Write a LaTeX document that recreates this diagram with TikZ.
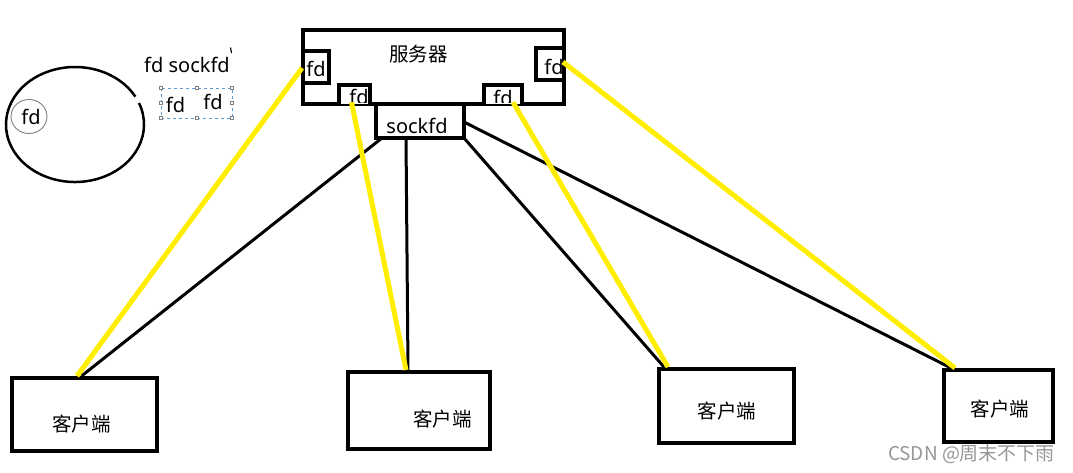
\documentclass[tikz,border=0pt]{standalone}
\usepackage{fontspec}
\setmainfont{Noto Sans}
\newfontfamily\cjk{Noto Sans CJK SC}
\usetikzlibrary{calc}
\definecolor{ylw}{RGB}{255,238,0}
\definecolor{selblue}{RGB}{91,155,213}
\definecolor{wmgray}{RGB}{150,150,150}
\tikzset{
  box/.style={draw=black, line width=3.5pt, fill=white, inner sep=0pt, outer sep=0pt},
  fdbox/.style={draw=black, line width=3.2pt, fill=white, inner sep=0pt, outer sep=0pt},
  lat/.style={font=\fontsize{20}{24}\selectfont, inner sep=0pt},
  cj/.style={font=\cjk\fontsize{19.5}{24}\selectfont, inner sep=0pt},
  blk/.style={draw=black, line width=3pt},
  yel/.style={draw=ylw, line width=5pt},
  handle/.style={draw=gray, fill=white, line width=0.5pt, minimum size=3pt, inner sep=0pt},
}
\begin{document}
\begin{tikzpicture}[x=1pt,y=-1pt]
\useasboundingbox (0,0) rectangle (1073,472);
\fill[white] (0,0) rectangle (1073,472);

% left-hand sketch
\draw[line width=2.5pt] (75,124.5) ++(-22:69 and 57.5) arc[start angle=-22, end angle=331, x radius=69, y radius=57.5];
\draw[gray, line width=0.9pt] (29,116.5) ellipse[x radius=18, y radius=17];
\node[lat] (efd) at (31,116.5) {fd};
\node[lat] (fdsock) at (187,64.5) {fd sockfd};
\draw[line width=1.2pt] (230.5,47.5) -- (231.5,53);

% selection box
\draw[selblue, dashed, line width=0.8pt] (161,88) rectangle (232,118);
\foreach \p in {(161,88),(196.5,88),(232,88),(161,118),(196.5,118),(232,118),(161,103),(232,103)}
  \node[handle] at \p {};
\node[lat] (sfd1) at (175.5,104.5) {fd};
\node[lat] (sfd2) at (213,101.5) {fd};

% server
\node[box, minimum width=261, minimum height=74] (srv) at (433.5,67) {};
\node[cj] (srvt) at (418.5,54) {服务器};
\node[fdbox, minimum width=26, minimum height=32] (lfd) at (316,67) {};
\node[lat] at (316,68.5) {fd};
\node[fdbox, minimum width=28, minimum height=32] (rfd) at (550,64) {};
\node[lat] at (554,67) {fd};
\draw[fdbox] (339,104) |- (370,85) -- (370,104);
\node[inner sep=0, minimum width=31, minimum height=19] (blfd) at (354.5,94.5) {};
\draw[fdbox] (484,104) |- (522,85) -- (522,104);
\node[inner sep=0, minimum width=38, minimum height=19] (brfd) at (503,94.5) {};
\begin{scope}
\clip (330,80) rectangle (540,102.5);
\node[lat] at (359,96.5) {fd};
\node[lat] at (503,98) {fd};
\end{scope}
\node[box, minimum width=88, minimum height=34] (sock) at (420,121) {};
\node[lat] at (417,125.5) {sockfd};

% clients
\node[box, line width=4pt, minimum width=145, minimum height=73] (c1) at (84.5,414.5) {};
\node[cj] at (81.5,424.5) {客户端};
\node[box, line width=4pt, minimum width=142, minimum height=77] (c2) at (419,410.5) {};
\node[cj] at (442.5,419.5) {客户端};
\node[box, line width=4pt, minimum width=135, minimum height=74] (c3) at (726.5,406) {};
\node[cj] at (727,411.5) {客户端};
\node[box, line width=4pt, minimum width=109, minimum height=72] (c4) at (998.5,406) {};
\node[cj] at (1000,409.5) {客户端};

% black connectors
\draw[blk] ($(sock.south west)+(6,0)$) -- ($(c1.north)+(-3,-2)$);
\draw[blk] ($(sock.south)+(-14,0)$) -- ($(c2.north)+(-11,-2)$);
\draw[blk] ($(sock.south east)+(0,0)$) -- ($(c3.north west)+(5,-2)$);
\draw[blk] ($(sock.east)+(0,1)$) -- ($(c4.north west)+(7,-2)$);

% yellow connectors
\draw[yel] ($(lfd.west)+(-1,1)$) -- ($(c1.north)+(-7.5,-2)$);
\draw[yel] ($(blfd.south)+(-3,-2)$) -- ($(c2.north)+(-13,-2)$);
\draw[yel] ($(brfd.south)+(10,-2)$) -- ($(c3.north west)+(9,-2)$);
\draw[yel] ($(rfd.east)+(-1,-2)$) -- ($(c4.north west)+(11,-2)$);

% watermark
\node[font=\cjk\fontsize{19}{22}\selectfont, text=wmgray, inner sep=0] (wm) at (971.5,454) {CSDN @周末不下雨};
\end{tikzpicture}
\end{document}
